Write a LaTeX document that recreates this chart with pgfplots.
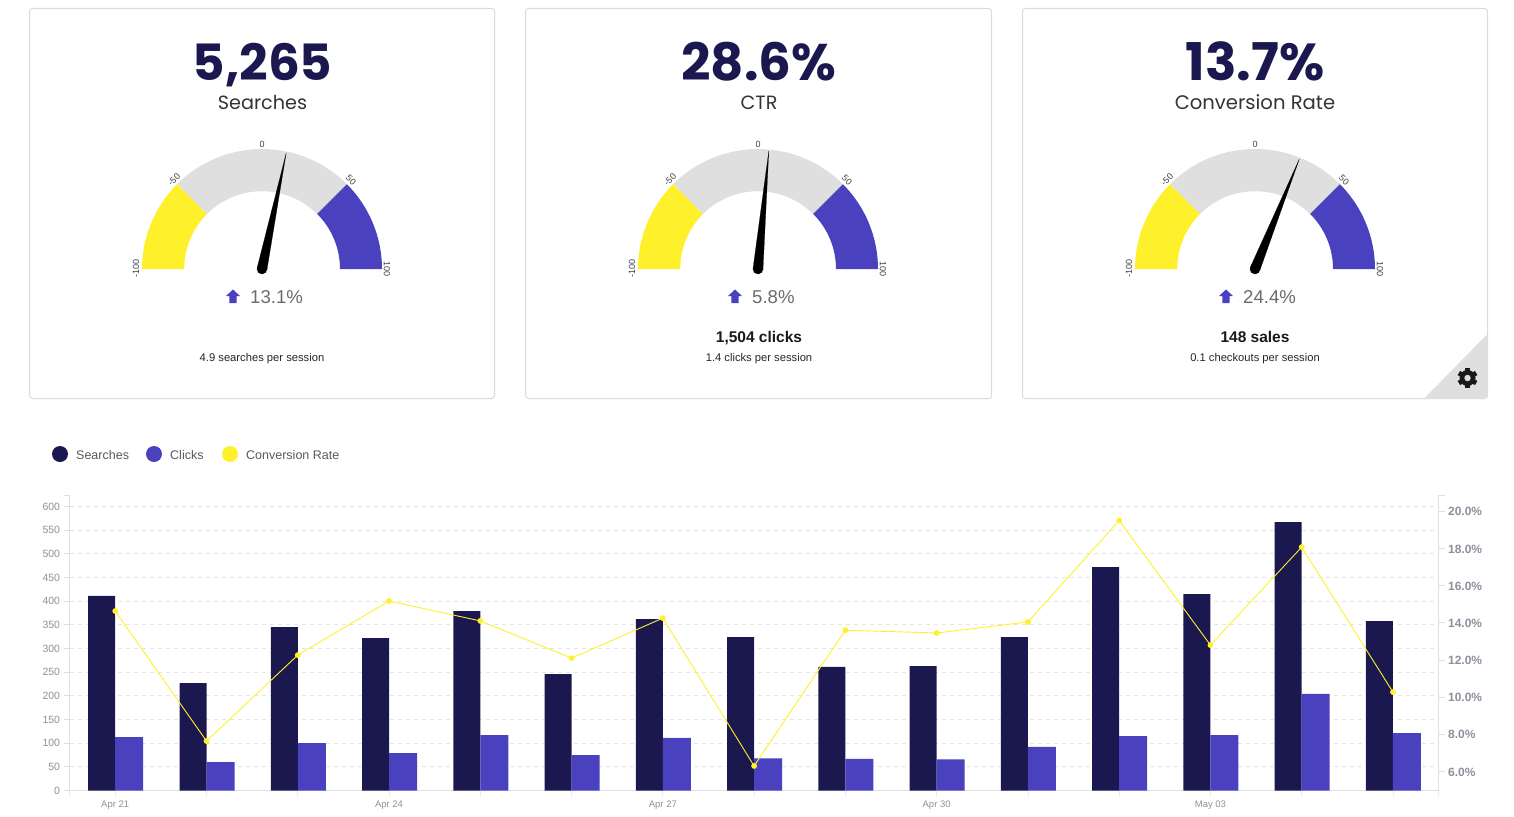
\documentclass[border=0pt]{standalone}
\usepackage{fontspec}
\setmainfont{Liberation Sans}
\newfontfamily\head{Poppins}
\usepackage{pgfplots}
\usepackage{pgfplotstable}
\pgfplotsset{compat=1.18}
\definecolor{navy}{HTML}{1B1850}
\definecolor{purp}{HTML}{4A41BF}
\definecolor{yel}{HTML}{FFF02C}
\definecolor{lgray}{HTML}{DFDFDF}
\definecolor{axisc}{HTML}{DFE0E6}
\definecolor{gridc}{HTML}{E4E4E4}
\definecolor{tickc}{HTML}{8B909C}
\definecolor{card}{HTML}{DADADA}
\newcommand{\fs}[1]{\fontsize{#1}{#1}\selectfont}
\pgfplotstableread{
x searches clicks rate
0 411 113 14.63
1 227 60 7.64
2 345 100 12.26
3 322 79 15.17
4 379 117 14.10
5 246 75 12.10
6 362 111 14.25
7 324 68 6.30
8 261 67 13.60
9 263 66 13.45
10 324 92 14.04
11 472 115 19.50
12 415 117 12.80
13 567 204 18.07
14 358 121 10.27
}\datatable
\newcommand{\gauge}[7]{% cx, tipx, tipy, b1x, b1y, b2x, b2y
  \fill[yel] (#1-120,269) arc[start angle=180,end angle=135,radius=120pt] -- ({#1-55},{269-55}) arc[start angle=135,end angle=180,radius=77.78pt] -- cycle;
  \fill[lgray] ({#1-84.85},{269-84.85}) arc[start angle=135,end angle=45,radius=120pt] -- ({#1+55},{269-55}) arc[start angle=45,end angle=135,radius=77.78pt] -- cycle;
  \fill[purp] ({#1+84.85},{269-84.85}) arc[start angle=45,end angle=0,radius=120pt] -- ({#1+78},269) arc[start angle=0,end angle=45,radius=77.78pt] -- cycle;
  \node[font=\fs{9},text=black!75,inner sep=0pt] at (#1,144) {0};
  \node[font=\fs{9},text=black!75,rotate=45,inner sep=0pt] at (#1-88,179.5) {-50};
  \node[font=\fs{9},text=black!75,rotate=-45,inner sep=0pt] at (#1+89,180) {50};
  \node[font=\fs{9},text=black!75,rotate=90,inner sep=0pt] at (#1-126,268) {-100};
  \node[font=\fs{9},text=black!75,rotate=-90,inner sep=0pt] at (#1+125,269) {100};
  \begin{axis}[at={({#1pt-120pt},-269pt)},anchor=south west,scale only axis,width=240pt,height=120pt,
    xmin=-120,xmax=120,ymin=0,ymax=120,hide axis,clip=false]
    \addplot[fill=black,draw=black,line width=0.2pt] coordinates {(#2,#3) (#4,#5) (#6,#7)} --cycle;
    \addplot[only marks,mark=*,mark size=5pt,black] coordinates {(0,0)};
  \end{axis}
}
\newcommand{\arrowup}[2]{\fill[purp] (#1-7,#2-0.5) -- (#1,#2-7) -- (#1+7,#2-0.5) -- (#1+3.6,#2-0.5) -- (#1+3.6,#2+6.5) -- (#1-3.6,#2+6.5) -- (#1-3.6,#2-0.5) -- cycle;}
\begin{document}
\begin{tikzpicture}[x=1pt,y=-1pt]
\path[use as bounding box] (0,0) rectangle (1514,816);
% cards
\foreach \a/\b in {29.5/494.5,525.5/991.5,1022.5/1487.5}{
  \draw[card,line width=1pt,rounded corners=3pt] (\a,8.5) rectangle (\b,398.5);
}
\fill[lgray] (1487.5,334) -- (1487.5,396) -- (1485.5,398.5) -- (1424,398.5) -- cycle;
% gear
\begin{scope}[shift={(1467.5,378)},fill=black!90]
  \foreach \r in {0,60,120}{\fill[rotate=\r] (-2.4,-10) rectangle (2.4,10);}
  \fill (0,0) circle (8pt);
  \fill[lgray] (0,0) circle (3.2pt);
\end{scope}
% headings
\node[font=\head\bfseries\fs{50},text=navy,anchor=base] at (262.5,81) {5,265};
\node[font=\head\bfseries\fs{51.5},text=navy,anchor=base] at (759,81) {28.6\%};
\node[font=\head\bfseries\fs{52},text=navy,anchor=base] at (1255,81) {13.7\%};
\node[font=\head\fs{19.2},text=black!80,anchor=base] at (262.5,109) {Searches};
\node[font=\head\fs{19.2},text=black!80,anchor=base] at (759,109) {CTR};
\node[font=\head\fs{19.6},text=black!80,anchor=base] at (1255,109) {Conversion Rate};
% gauges
\gauge{262}{24.2}{116.0}{4.9}{-1.0}{-4.9}{1.0}
\gauge{758}{10.8}{118.0}{4.98}{-0.46}{-4.98}{0.46}
\gauge{1255}{44.3}{109.9}{4.64}{-1.87}{-4.64}{1.87}
% deltas
\arrowup{233}{296.5}\node[font=\fs{18.6},text=black!58,anchor=base west,inner sep=0pt] at (250,303) {13.1\%};
\arrowup{735}{296.5}\node[font=\fs{18.6},text=black!58,anchor=base west,inner sep=0pt] at (752,303) {5.8\%};
\arrowup{1226}{296.5}\node[font=\fs{18.6},text=black!58,anchor=base west,inner sep=0pt] at (1243,303) {24.4\%};
% footers
\node[font=\bfseries\fs{15.5},text=black!90,anchor=base] at (759,342) {1,504 clicks};
\node[font=\bfseries\fs{15.5},text=black!90,anchor=base] at (1255,342) {148 sales};
\node[font=\fs{11.2},text=black!85,anchor=base] at (262,361) {4.9 searches per session};
\node[font=\fs{11.2},text=black!85,anchor=base] at (759,361) {1.4 clicks per session};
\node[font=\fs{11.2},text=black!85,anchor=base] at (1255,361) {0.1 checkouts per session};
% legend
\fill[navy] (60,454) circle (8pt);
\fill[purp] (154,454) circle (8pt);
\fill[yel] (230,454) circle (8pt);
\node[font=\fs{12.5},text=black!65,anchor=west,inner sep=0pt] at (76,455) {Searches};
\node[font=\fs{12.5},text=black!65,anchor=west,inner sep=0pt] at (170,455) {Clicks};
\node[font=\fs{12.5},text=black!65,anchor=west,inner sep=0pt] at (246,455) {Conversion Rate};
% main chart
\begin{axis}[at={(69.6pt,-790.5pt)},anchor=south west,scale only axis,width=1369pt,height=295.5pt,
  xmin=-0.5,xmax=14.5,ymin=0,ymax=624.3,
  axis x line*=bottom,axis y line*=left,axis line style={axisc,line width=1.2pt,-},
  tick align=outside,major tick length=6pt,tick style={axisc,line width=0.9pt},
  x tick style={axisc!60,line width=0.7pt},
  xtick={0,...,14},xticklabels={Apr 21,,,Apr 24,,,Apr 27,,,Apr 30,,,May 03,,},
  extra x ticks={-0.5,14.5},extra x tick labels={,},extra x tick style={tick style={axisc,line width=0.9pt}},
  ytick={0,50,...,600},extra y ticks={624.3},extra y tick labels={},extra y tick style={grid=none},
  ymajorgrids,grid style={gridc,dashed,dash pattern=on 4pt off 4pt,line width=0.8pt},
  tick label style={font=\fs{10.5},text=tickc},
  x tick label style={font=\fs{9.5},yshift=-0.8pt},
  /pgf/number format/assume math mode=true,
  ybar,bar width=27pt,clip=false]
  \addplot[ybar,bar shift=-13.5pt,bar width=27pt,fill=navy,draw=none] table[x=x,y=searches] {\datatable};
  \addplot[ybar,bar shift=14pt,bar width=28pt,fill=purp,draw=none] table[x=x,y=clicks] {\datatable};
\end{axis}
\begin{axis}[at={(69.6pt,-790.5pt)},anchor=south west,scale only axis,width=1369pt,height=295.5pt,
  xmin=-0.5,xmax=14.5,ymin=4.98,ymax=20.87,
  axis x line=none,axis y line*=right,axis line style={axisc,line width=1.2pt,-},
  tick align=outside,major tick length=6pt,tick style={axisc,line width=0.9pt},
  ytick={6,8,...,20},extra y ticks={20.87},extra y tick labels={},
  yticklabel={\pgfmathprintnumber[fixed,fixed zerofill,precision=1,assume math mode=true]{\tick}\%},
  tick label style={font=\bfseries\fs{12},text=tickc,yshift=-0.5pt},
  clip=false]
  \addplot[yel,line width=0.9pt,mark=*,mark size=2.4pt,mark options={fill=yel,draw=yel}] table[x=x,y=rate] {\datatable};
\end{axis}
\end{tikzpicture}
\end{document}
